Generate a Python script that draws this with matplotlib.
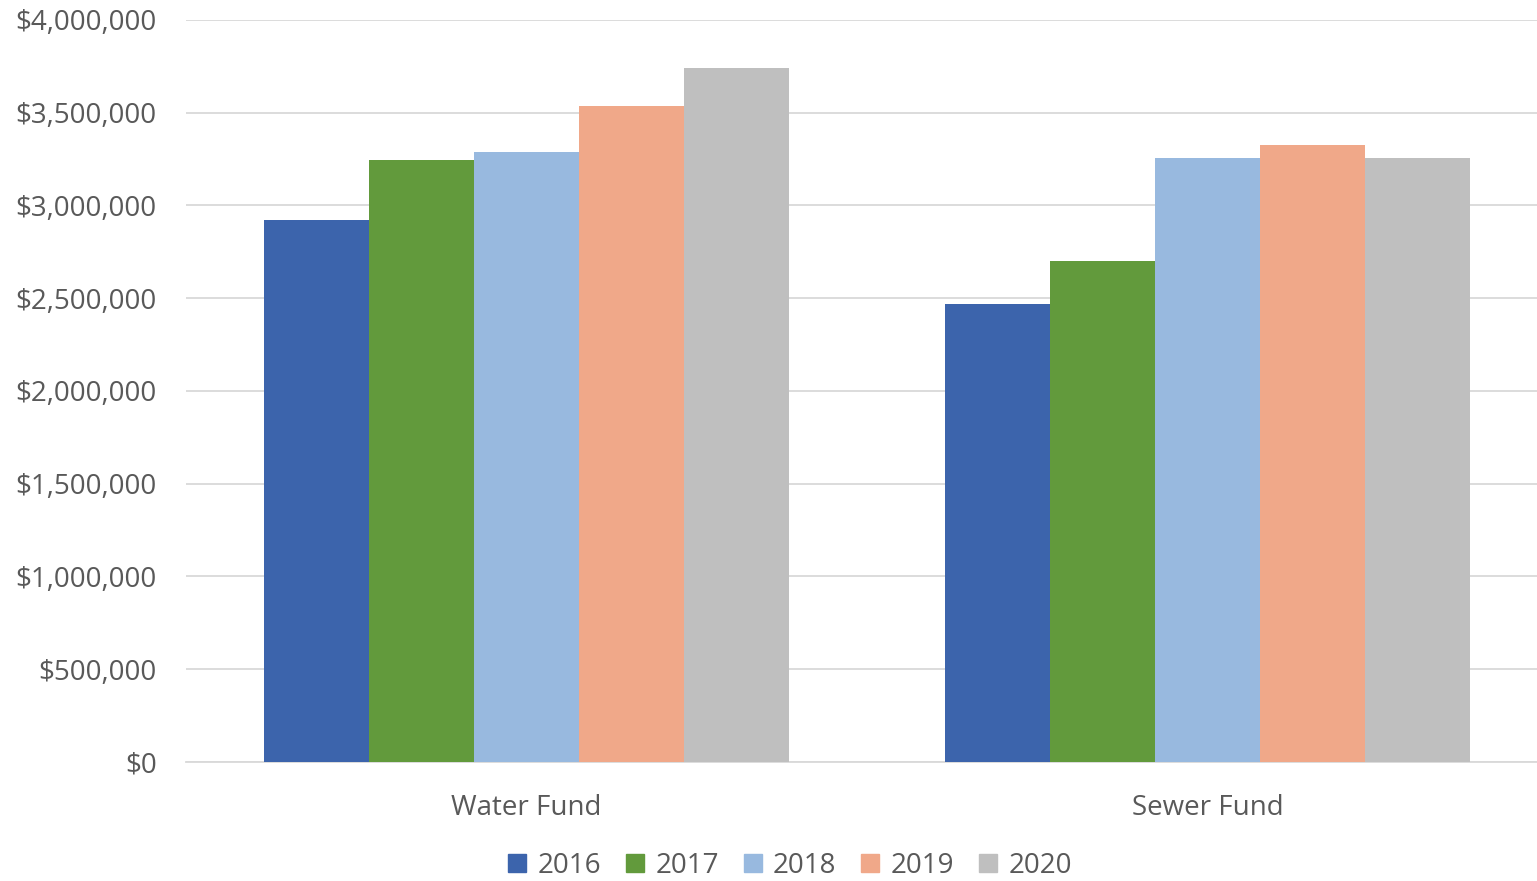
import numpy as np
import matplotlib.pyplot as plt
from matplotlib.ticker import FuncFormatter, MultipleLocator
from matplotlib.patches import Patch

plt.rcParams['font.family'] = ['Open Sans', 'DejaVu Sans']

# data
funds = ['Water Fund', 'Sewer Fund']
years = ['2016', '2017', '2018', '2019', '2020']
values = {
    '2016': [2922000, 2469000],
    '2017': [3245000, 2701000],
    '2018': [3288000, 3256000],
    '2019': [3536000, 3326000],
    '2020': [3741000, 3256000],
}
colors = ['#3C64AC', '#629A3C', '#98B9DF', '#F0A889', '#BFBFBF']

fig = plt.figure(figsize=(15.37, 8.81), dpi=100)
ax = fig.add_axes([0.121, 0.1351, 0.886, 0.8422])

x = np.arange(len(funds))
w = 0.771 / len(years)
for i, yr in enumerate(years):
    ax.bar(x + (i - 2) * w, values[yr], width=w, color=colors[i], zorder=3)

ax.set_xlim(-0.5, 1.5)
ax.set_ylim(0, 4000000)
ax.yaxis.set_major_locator(MultipleLocator(500000))
ax.yaxis.set_major_formatter(FuncFormatter(lambda v, p: '${:,.0f}'.format(v)))
ax.grid(axis='y', color='#D9D9D9', lw=1.3, zorder=0)
ax.set_xticks(x)
ax.set_xticklabels(funds)
ax.tick_params(axis='both', length=0, labelsize=20, labelcolor='#595959')
ax.tick_params(axis='y', pad=21)
ax.tick_params(axis='x', pad=23)
for s in ['top', 'right', 'left']:
    ax.spines[s].set_visible(False)
ax.spines['bottom'].set_color('#D9D9D9')
ax.spines['bottom'].set_linewidth(1.3)

handles = [Patch(color=c, label=y) for c, y in zip(colors, years)]
fig.legend(handles=handles, loc='lower center', ncol=5, frameon=False,
           bbox_to_anchor=(0.514, -0.027), fontsize=20, labelcolor='#595959',
           handlelength=0.65, handleheight=0.65, handletextpad=0.4, columnspacing=0.9)

plt.savefig('out.png', dpi=100)
